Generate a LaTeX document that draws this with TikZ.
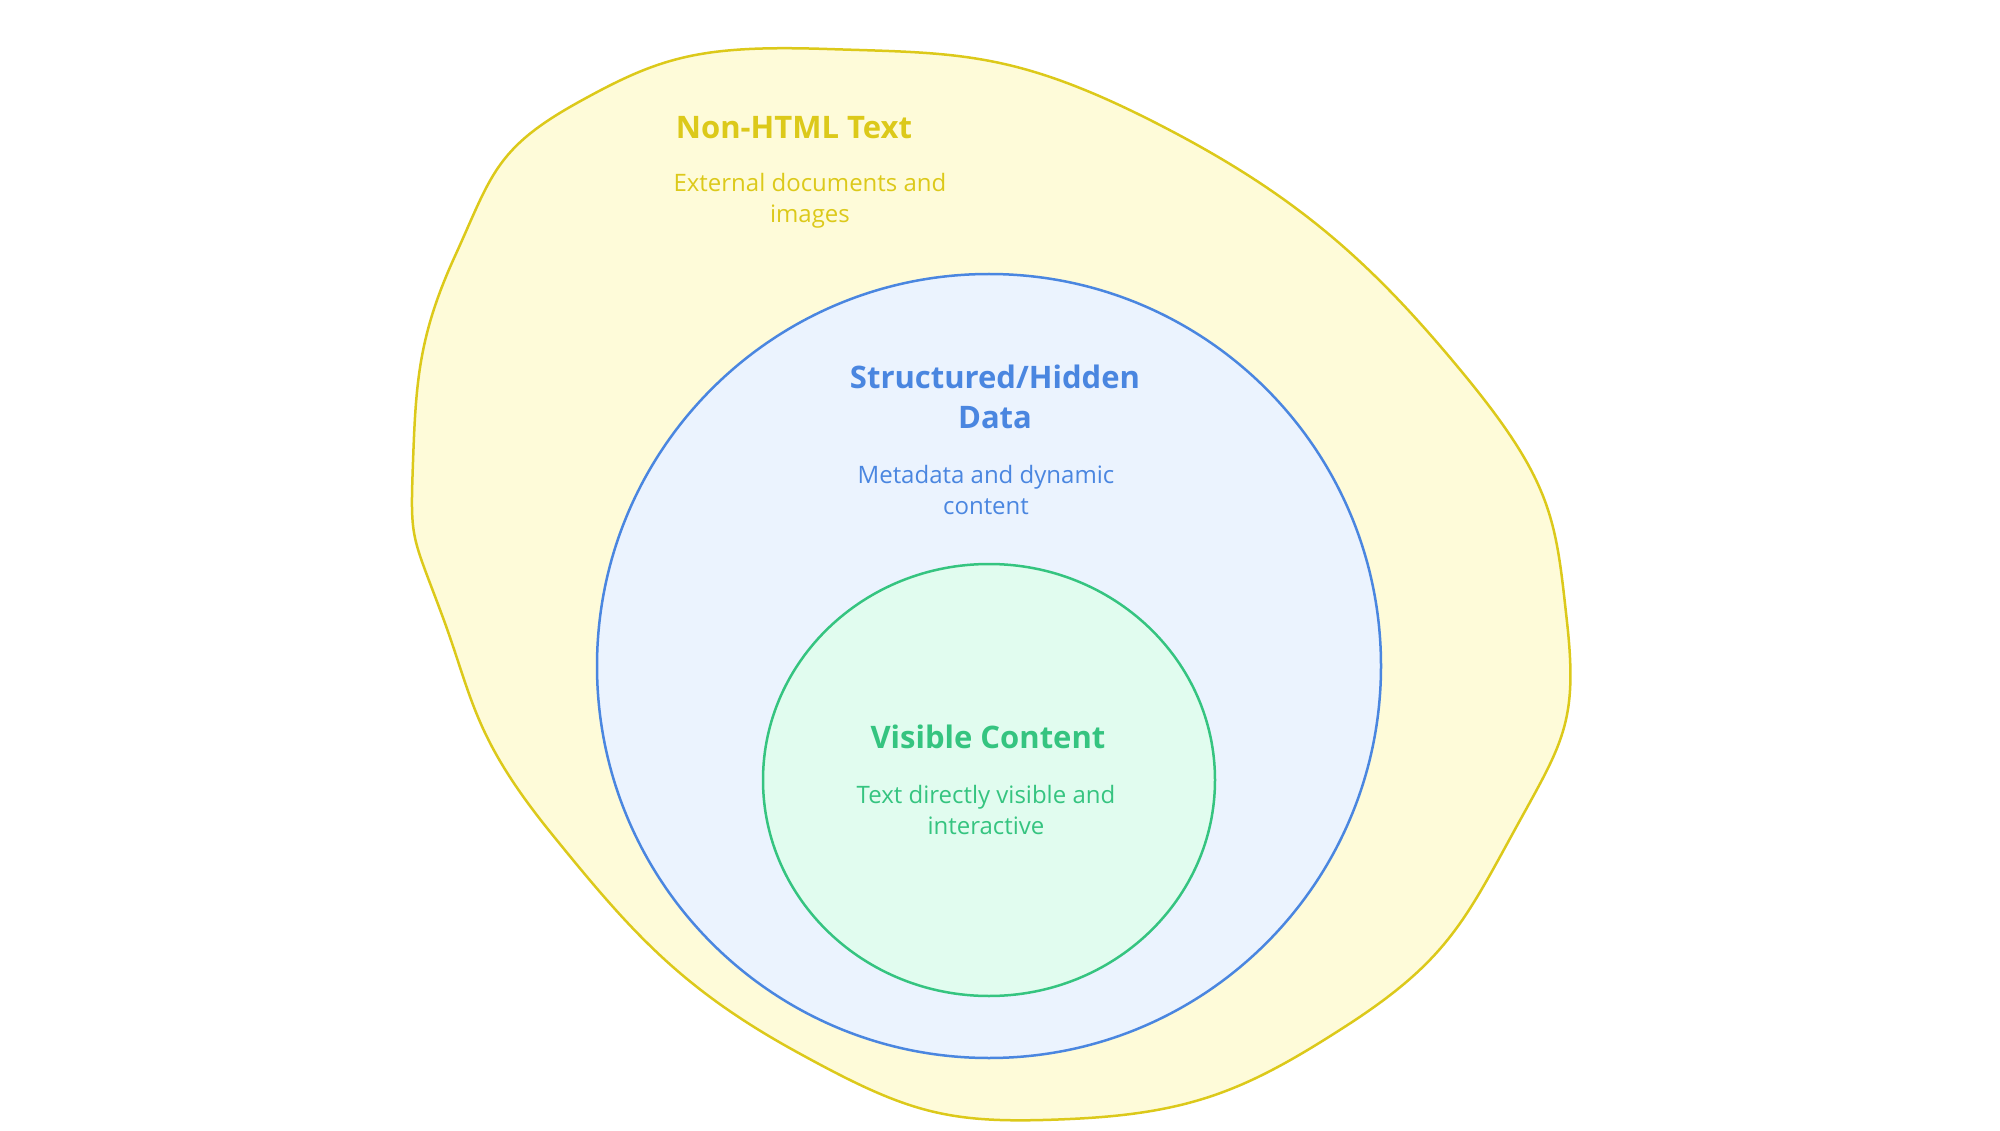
\documentclass[tikz,border=0pt]{standalone}
\usepackage{fontspec}
\setmainfont{Open Sans}
\begin{document}
\begin{tikzpicture}[x=1pt,y=-1pt,
  ttl/.style={font=\fontsize{31}{40}\selectfont\bfseries,align=center},
  sub/.style={font=\fontsize{24}{31}\selectfont,align=center}]
\definecolor{yl}{HTML}{DCC91A}\definecolor{ylf}{HTML}{FEFBD9}
\definecolor{bl}{HTML}{4A86E0}\definecolor{blf}{HTML}{EBF3FE}
\definecolor{gr}{HTML}{35C480}\definecolor{grf}{HTML}{E1FCEF}
\useasboundingbox (0,0) rectangle (2000,1131);
\draw[yl,fill=ylf,line width=2.5pt] plot[smooth cycle,tension=0.8] coordinates{
(413,462)(455,256)(577,103)(827,49)(1154,122)(1462,372)(1567,622)(1513,833)(1346,1026)(1070,1119)(795,1051)(551,833)(442,615)};
\draw[bl,fill=blf,line width=2.5pt] (989,666) circle (392);
\draw[gr,fill=grf,line width=2.5pt] (989,780) ellipse (226 and 216);
\node[ttl,text=yl] (t1) at (794,128) {Non-HTML Text};
\node[sub,text=yl] (s1) at (810,201) {External documents and\\images};
\node[ttl,text=bl] (t2) at (995,397) {Structured/Hidden\\Data};
\node[sub,text=bl] (s2) at (986,490) {Metadata and dynamic\\content};
\node[ttl,text=gr] (t3) at (988,737) {Visible Content};
\node[sub,text=gr] (s3) at (986,810) {Text directly visible and\\interactive};
\end{tikzpicture}
\end{document}
